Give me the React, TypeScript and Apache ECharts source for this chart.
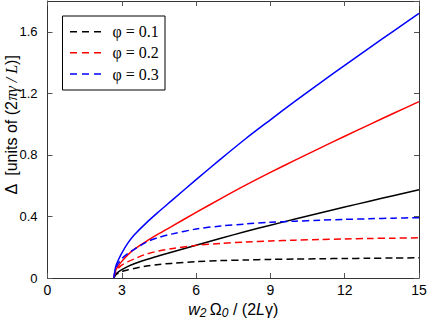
import React, { useEffect, useRef } from "react";
import * as echarts from "echarts";

// x positions of the sampled points (w2 Ω0 / (2Lγ))
const X = [2.68, 2.75, 2.85, 3, 3.25, 3.5, 4, 4.5, 5, 6, 7, 8, 9, 10, 11, 12, 13, 14, 15];

// solid curves
const solid01 = [0, 0.024, 0.038, 0.054, 0.076, 0.093, 0.120, 0.144, 0.167, 0.213, 0.258, 0.302, 0.343, 0.383, 0.422, 0.461, 0.499, 0.536, 0.573];
const solid02 = [0, 0.048, 0.076, 0.108, 0.152, 0.186, 0.240, 0.288, 0.334, 0.426, 0.516, 0.603, 0.686, 0.766, 0.844, 0.921, 0.997, 1.072, 1.146];
const solid03 = [0, 0.072, 0.114, 0.162, 0.228, 0.279, 0.360, 0.432, 0.501, 0.639, 0.774, 0.905, 1.028, 1.149, 1.267, 1.382, 1.496, 1.608, 1.719];

// dashed curves
const dashed01 = [0, 0.020, 0.031, 0.042, 0.053, 0.062, 0.078, 0.088, 0.095, 0.106, 0.113, 0.117, 0.121, 0.123, 0.125, 0.127, 0.128, 0.130, 0.131];
const dashed02 = [0, 0.040, 0.062, 0.084, 0.106, 0.124, 0.156, 0.176, 0.190, 0.212, 0.225, 0.234, 0.241, 0.246, 0.250, 0.254, 0.257, 0.259, 0.261];
const dashed03 = [0, 0.060, 0.093, 0.126, 0.159, 0.186, 0.234, 0.264, 0.285, 0.318, 0.338, 0.351, 0.362, 0.369, 0.376, 0.381, 0.385, 0.389, 0.392];

const legendNames = ["φ = 0.1", "φ = 0.2", "φ = 0.3"];
const colors = ["#000000", "#ff0000", "#0000ff"];

const pts = (ys: number[]) => X.map((x, i) => [x, ys[i]]);

export default function App() {
  const ref = useRef<HTMLDivElement>(null);
  useEffect(() => {
    if (!ref.current) return;
    const chart = echarts.init(ref.current, null, { renderer: "svg" });
    const sans = "'Liberation Sans', Arial, sans-serif";
    const serif = "'Liberation Serif', 'Times New Roman', serif";
    const axisLineColor = "#333";
    const tickColor = "#555";
    const baseX = {
      type: "value" as const,
      min: 0,
      max: 15,
      interval: 3,
      splitLine: { show: false },
      axisLine: { show: true, onZero: false, lineStyle: { color: axisLineColor, width: 1 } },
      axisTick: { show: true, inside: true, length: 5, lineStyle: { color: tickColor } },
    };
    const baseY = {
      type: "value" as const,
      min: 0,
      max: 1.8,
      interval: 0.4,
      splitLine: { show: false },
      axisLine: { show: true, onZero: false, lineStyle: { color: axisLineColor, width: 1 } },
      axisTick: { show: true, inside: true, length: 5, lineStyle: { color: tickColor } },
    };
    const mk = (name: string, ys: number[], color: string, dashed: boolean) => ({
      type: "line" as const,
      name,
      data: pts(ys),
      showSymbol: false,
      symbol: "none",
      smooth: 0.3,
      lineStyle: { color, width: 1.5, type: dashed ? [7, 4] : "solid" },
      itemStyle: { color },
      xAxisIndex: 0,
      yAxisIndex: 0,
    });

    // legend drawn as graphic elements
    const lgLeft = 62.5;
    const lgTop = 16;
    const rowYs = [31.7, 52.7, 74];
    const legendEls: any[] = [
      {
        type: "rect",
        shape: { x: lgLeft, y: lgTop, width: 102.5, height: 74 },
        style: { fill: "#fff", stroke: "#000", lineWidth: 1 },
        z: 100,
      },
    ];
    legendNames.forEach((nm, i) => {
      legendEls.push({
        type: "line",
        shape: { x1: 70, y1: rowYs[i], x2: 101, y2: rowYs[i] },
        style: { stroke: colors[i], lineWidth: 1.5, lineDash: [7, 5] },
        z: 101,
      });
      legendEls.push({
        type: "text",
        x: 112.5,
        y: rowYs[i],
        style: {
          text: nm,
          fontFamily: serif,
          fontSize: 16,
          fill: "#000",
          align: "left",
          verticalAlign: "middle",
        },
        z: 101,
      });
    });

    chart.setOption({
      animation: false,
      backgroundColor: "#fff",
      grid: { left: 47.5, right: 10, top: 1, bottom: 42, outerBoundsMode: "none" },
      xAxis: [
        {
          ...baseX,
          position: "bottom",
          axisLabel: { fontFamily: sans, fontSize: 14, color: "#000", margin: 5 },
          name: "{i|w}{sub|2} {r|Ω}{sub|0}{r| / (2}{i|L}{r|γ)}",
          nameLocation: "middle",
          nameGap: 21,
          nameTextStyle: {
            rich: {
              r: { fontFamily: sans, fontSize: 16, color: "#000" },
              i: { fontFamily: sans, fontSize: 16, fontStyle: "italic", color: "#000" },
              sub: { fontFamily: sans, fontSize: 12, fontStyle: "italic", color: "#000", padding: [6, 0, 0, 0] },
            },
          },
        },
        { ...baseX, position: "top", axisLabel: { show: false } },
      ],
      yAxis: [
        {
          ...baseY,
          position: "left",
          axisLabel: {
            fontFamily: sans,
            fontSize: 13,
            color: "#000",
            margin: 10,
            showMaxLabel: false,
            formatter: (v: number) => (v === 0 ? "0" : v.toFixed(1)),
          },
        },
        { ...baseY, position: "right", axisLabel: { show: false } },
      ],
      graphic: [
        {
          type: "text",
          x: 11,
          y: 125,
          rotation: Math.PI / 2,
          style: {
            text: "{r|Δ  [units of (2}{i|πγ / L}{r|)]}",
            align: "center",
            verticalAlign: "middle",
            rich: {
              r: { fontFamily: sans, fontSize: 16, fill: "#000" },
              i: { fontFamily: serif, fontSize: 16, fontStyle: "italic", fill: "#000" },
            },
          },
        },
        ...legendEls,
      ],
      series: [
        mk("solid 0.1", solid01, colors[0], false),
        mk("solid 0.2", solid02, colors[1], false),
        mk("solid 0.3", solid03, colors[2], false),
        mk(legendNames[0], dashed01, colors[0], true),
        mk(legendNames[1], dashed02, colors[1], true),
        mk(legendNames[2], dashed03, colors[2], true),
      ],
    });
    return () => chart.dispose();
  }, []);
  return (
    <div
      ref={ref}
      style={{ position: "fixed", left: 0, top: 0, width: 429, height: 320, background: "#fff" }}
    />
  );
}
